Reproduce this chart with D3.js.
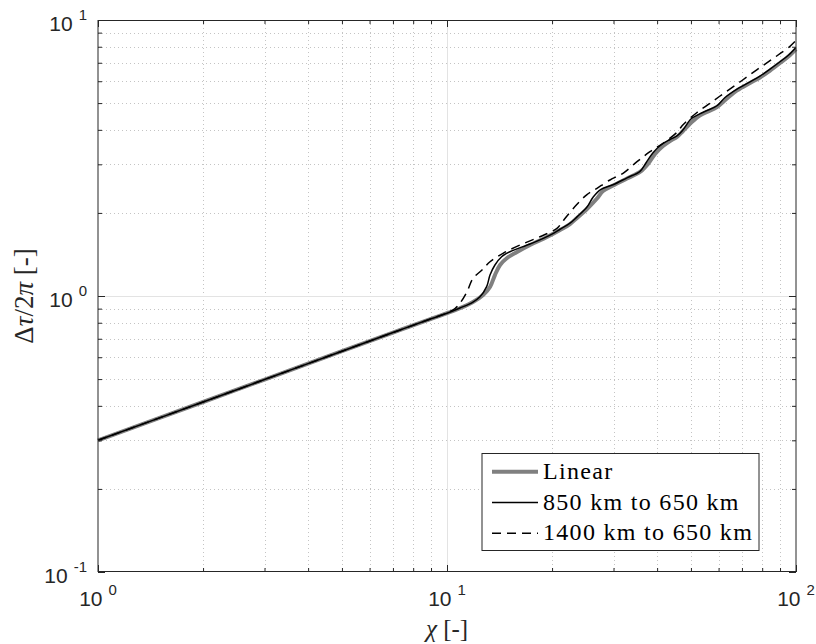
<!DOCTYPE html>
<html>
<head>
<meta charset="utf-8">
<script src="https://cdn.jsdelivr.net/npm/d3@7"></script>
<style>
  html, body { margin: 0; padding: 0; background: #fff; }
  svg { display: block; }
</style>
</head>
<body>
<svg id="chart" width="816" height="644"></svg>
<script>
// Phase difference Δτ/2π versus χ for the linear model and two depth cases
const linearChi = [1, 2, 3, 5, 7, 9, 10, 10.89, 11.87, 12.69, 13.28, 13.72, 14.19, 14.86, 15.87, 17.29, 19.34, 21.08, 22.51, 23.58, 25.18, 26.90, 27.99, 29.90, 32.79, 35.73, 37.66, 39.45, 41.58, 43.55, 45.60, 47.45, 50.68, 52.98, 55.59, 59.37, 63.43, 67.76, 73.84, 78.86, 84.25, 90.0, 95.1, 100];
const linearTau = [0.30, 0.413, 0.498, 0.631, 0.737, 0.827, 0.866, 0.903, 0.951, 1.008, 1.078, 1.191, 1.295, 1.373, 1.443, 1.530, 1.636, 1.734, 1.823, 1.918, 2.067, 2.256, 2.401, 2.513, 2.665, 2.814, 3.008, 3.270, 3.495, 3.644, 3.768, 3.962, 4.305, 4.508, 4.642, 4.839, 5.195, 5.555, 5.913, 6.190, 6.561, 6.986, 7.375, 7.85];

const km850Chi = [1, 2, 3, 5, 7, 9, 10, 10.89, 11.87, 12.43, 12.99, 13.28, 13.72, 14.34, 15.15, 17.29, 19.34, 21.08, 22.51, 23.58, 25.18, 26.24, 27.62, 29.90, 32.79, 35.73, 37.15, 38.88, 41.0, 43.55, 45.60, 47.45, 50.0, 52.98, 55.59, 59.37, 62.6, 67.76, 73.84, 78.86, 84.25, 90.0, 95.1, 100];
const km850Tau = [0.30, 0.413, 0.498, 0.631, 0.737, 0.827, 0.866, 0.905, 0.951, 0.994, 1.081, 1.191, 1.295, 1.388, 1.447, 1.543, 1.640, 1.745, 1.836, 1.935, 2.10, 2.284, 2.435, 2.530, 2.680, 2.830, 3.033, 3.298, 3.525, 3.690, 3.800, 4.000, 4.377, 4.570, 4.700, 4.890, 5.240, 5.620, 5.970, 6.260, 6.640, 7.060, 7.450, 7.95];

const km1400Chi = [1, 2, 3, 5, 7, 9, 10, 10.54, 10.89, 11.41, 11.87, 12.60, 13.28, 14.47, 16.19, 18.47, 20.66, 21.36, 22.07, 23.58, 25.18, 26.90, 29.31, 31.94, 35.03, 38.16, 41.58, 45.60, 47.54, 51.94, 56.70, 61.89, 67.63, 73.84, 80.57, 88.04, 96.1, 100];
const km1400Tau = [0.30, 0.413, 0.498, 0.631, 0.737, 0.827, 0.868, 0.901, 0.941, 1.036, 1.159, 1.242, 1.331, 1.428, 1.530, 1.640, 1.759, 1.850, 1.950, 2.150, 2.330, 2.456, 2.632, 2.784, 3.066, 3.333, 3.575, 3.920, 4.180, 4.614, 4.992, 5.408, 5.848, 6.338, 6.852, 7.405, 8.029, 8.43];

const xMajor = [1, 10, 100];
const xMinor = [2, 3, 4, 5, 6, 7, 8, 9, 20, 30, 40, 50, 60, 70, 80, 90];
const yMajor = [0.1, 1, 10];
const yMinor = [0.2, 0.3, 0.4, 0.5, 0.6, 0.7, 0.8, 0.9, 2, 3, 4, 5, 6, 7, 8, 9];
const xTickExp = ["0", "1", "2"];
const yTickExp = ["-1", "0", "1"];

const legendLabels = ["Linear", "850 km to 650 km", "1400 km to 650 km"];

const L = 98, R = 796, T = 20, B = 572;
const ink = "#262626";
const serif = "Liberation Serif";
const sans = "Liberation Sans";

const svg = d3.select("#chart");
const x = d3.scaleLog().domain([1, 100]).range([L, R]);
const y = d3.scaleLog().domain([0.1, 10]).range([B, T]);

// grid: dotted minor lines, solid light major lines
const grid = svg.append("g");
grid.selectAll(".gx").data(xMinor).join("line")
  .attr("x1", d => Math.round(x(d)) + 0.5).attr("x2", d => Math.round(x(d)) + 0.5)
  .attr("y1", T).attr("y2", B)
  .attr("stroke", "#c4c4c4").attr("stroke-width", 1).attr("stroke-dasharray", "1,3");
grid.selectAll(".gy").data(yMinor).join("line")
  .attr("y1", d => Math.round(y(d)) + 0.5).attr("y2", d => Math.round(y(d)) + 0.5)
  .attr("x1", L).attr("x2", R)
  .attr("stroke", "#c4c4c4").attr("stroke-width", 1).attr("stroke-dasharray", "1,3");
grid.selectAll(".gX").data(xMajor.slice(1, -1)).join("line")
  .attr("x1", d => Math.round(x(d)) + 0.5).attr("x2", d => Math.round(x(d)) + 0.5)
  .attr("y1", T).attr("y2", B).attr("stroke", "#e3e3e3").attr("stroke-width", 1);
grid.selectAll(".gY").data(yMajor.slice(1, -1)).join("line")
  .attr("y1", d => Math.round(y(d)) + 0.5).attr("y2", d => Math.round(y(d)) + 0.5)
  .attr("x1", L).attr("x2", R).attr("stroke", "#e3e3e3").attr("stroke-width", 1);

// curves
const line = (xs, ys) => d3.line()
  .x((d, i) => x(xs[i])).y((d, i) => y(ys[i]))
  .curve(d3.curveCatmullRom.alpha(0.5))(xs);

svg.append("path").attr("d", line(linearChi, linearTau))
  .attr("fill", "none").attr("stroke", "#808080").attr("stroke-width", 4)
  .attr("stroke-linejoin", "round");
svg.append("path").attr("d", line(km850Chi, km850Tau))
  .attr("fill", "none").attr("stroke", "#000").attr("stroke-width", 1.5)
  .attr("stroke-linejoin", "round");
svg.append("path").attr("d", line(km1400Chi, km1400Tau))
  .attr("fill", "none").attr("stroke", "#000").attr("stroke-width", 1.5)
  .attr("stroke-dasharray", "9,6");

// axes with inward ticks on all four sides
function addAxis(axisFn, scale, vals, size, transform) {
  const g = svg.append("g").attr("transform", transform)
    .call(axisFn(scale).tickValues(vals).tickSize(-size).tickFormat(""));
  g.select(".domain").remove();
  g.selectAll(".tick line").attr("stroke", ink).attr("stroke-width", 1);
}
addAxis(d3.axisBottom, x, xMajor, 7, `translate(0,${B})`);
addAxis(d3.axisBottom, x, xMinor, 4, `translate(0,${B})`);
addAxis(d3.axisTop, x, xMajor, 7, `translate(0,${T})`);
addAxis(d3.axisTop, x, xMinor, 4, `translate(0,${T})`);
addAxis(d3.axisLeft, y, yMajor, 7, `translate(${L},0)`);
addAxis(d3.axisLeft, y, yMinor, 4, `translate(${L},0)`);
addAxis(d3.axisRight, y, yMajor, 7, `translate(${R},0)`);
addAxis(d3.axisRight, y, yMinor, 4, `translate(${R},0)`);

svg.append("rect").attr("x", L).attr("y", T + 0.5).attr("width", R - L).attr("height", B - T - 1)
  .attr("fill", "none").attr("stroke", ink).attr("stroke-width", 1);

// tick labels: 10 with superscript exponent
xMajor.forEach((v, i) => {
  const t = svg.append("text").attr("x", x(v)).attr("y", B + 34)
    .attr("text-anchor", "middle").style("font-family", sans).attr("fill", ink);
  t.append("tspan").attr("font-size", 21).text("10");
  t.append("tspan").attr("font-size", 15).attr("dx", 6).attr("dy", -11).text(xTickExp[i]);
});
yMajor.forEach((v, i) => {
  const t = svg.append("text").attr("x", 87).attr("y", y(v) + 11)
    .attr("text-anchor", "end").style("font-family", sans).attr("fill", ink);
  t.append("tspan").attr("font-size", 21).text("10");
  t.append("tspan").attr("font-size", 15).attr("dx", 6).attr("dy", -11).text(yTickExp[i]);
});

// axis titles
const xt = svg.append("text").attr("x", (L + R) / 2).attr("y", 637)
  .attr("text-anchor", "middle").style("font-family", serif).attr("font-size", 25).attr("fill", ink);
xt.append("tspan").attr("font-style", "italic").text("χ");
xt.append("tspan").text(" [-]");

const yt = svg.append("text").attr("transform", `translate(33,${(T + B) / 2}) rotate(-90)`)
  .attr("text-anchor", "middle").style("font-family", serif).attr("font-size", 27).attr("fill", ink);
yt.append("tspan").text("Δ");
yt.append("tspan").attr("font-style", "italic").text("τ");
yt.append("tspan").text("/2");
yt.append("tspan").attr("font-style", "italic").text("π");
yt.append("tspan").text(" [-]");

// legend
const leg = svg.append("g");
leg.append("rect").attr("x", 482).attr("y", 453.5).attr("width", 277).attr("height", 97)
  .attr("fill", "#fff").attr("stroke", ink).attr("stroke-width", 1);
const legStyles = [
  { stroke: "#808080", width: 4, dash: null },
  { stroke: "#000", width: 1.5, dash: null },
  { stroke: "#000", width: 1.5, dash: "9,6" }
];
legendLabels.forEach((lab, i) => {
  const cy = 471.7 + i * 30.8;
  const s = legStyles[i];
  leg.append("line").attr("x1", 492).attr("x2", 538).attr("y1", cy).attr("y2", cy)
    .attr("stroke", s.stroke).attr("stroke-width", s.width)
    .attr("stroke-dasharray", s.dash);
  leg.append("text").attr("x", 543).attr("y", cy + 7)
    .style("font-family", serif).attr("font-size", 24).attr("letter-spacing", 1.3)
    .attr("fill", "#000").text(lab);
});
</script>
</body>
</html>
